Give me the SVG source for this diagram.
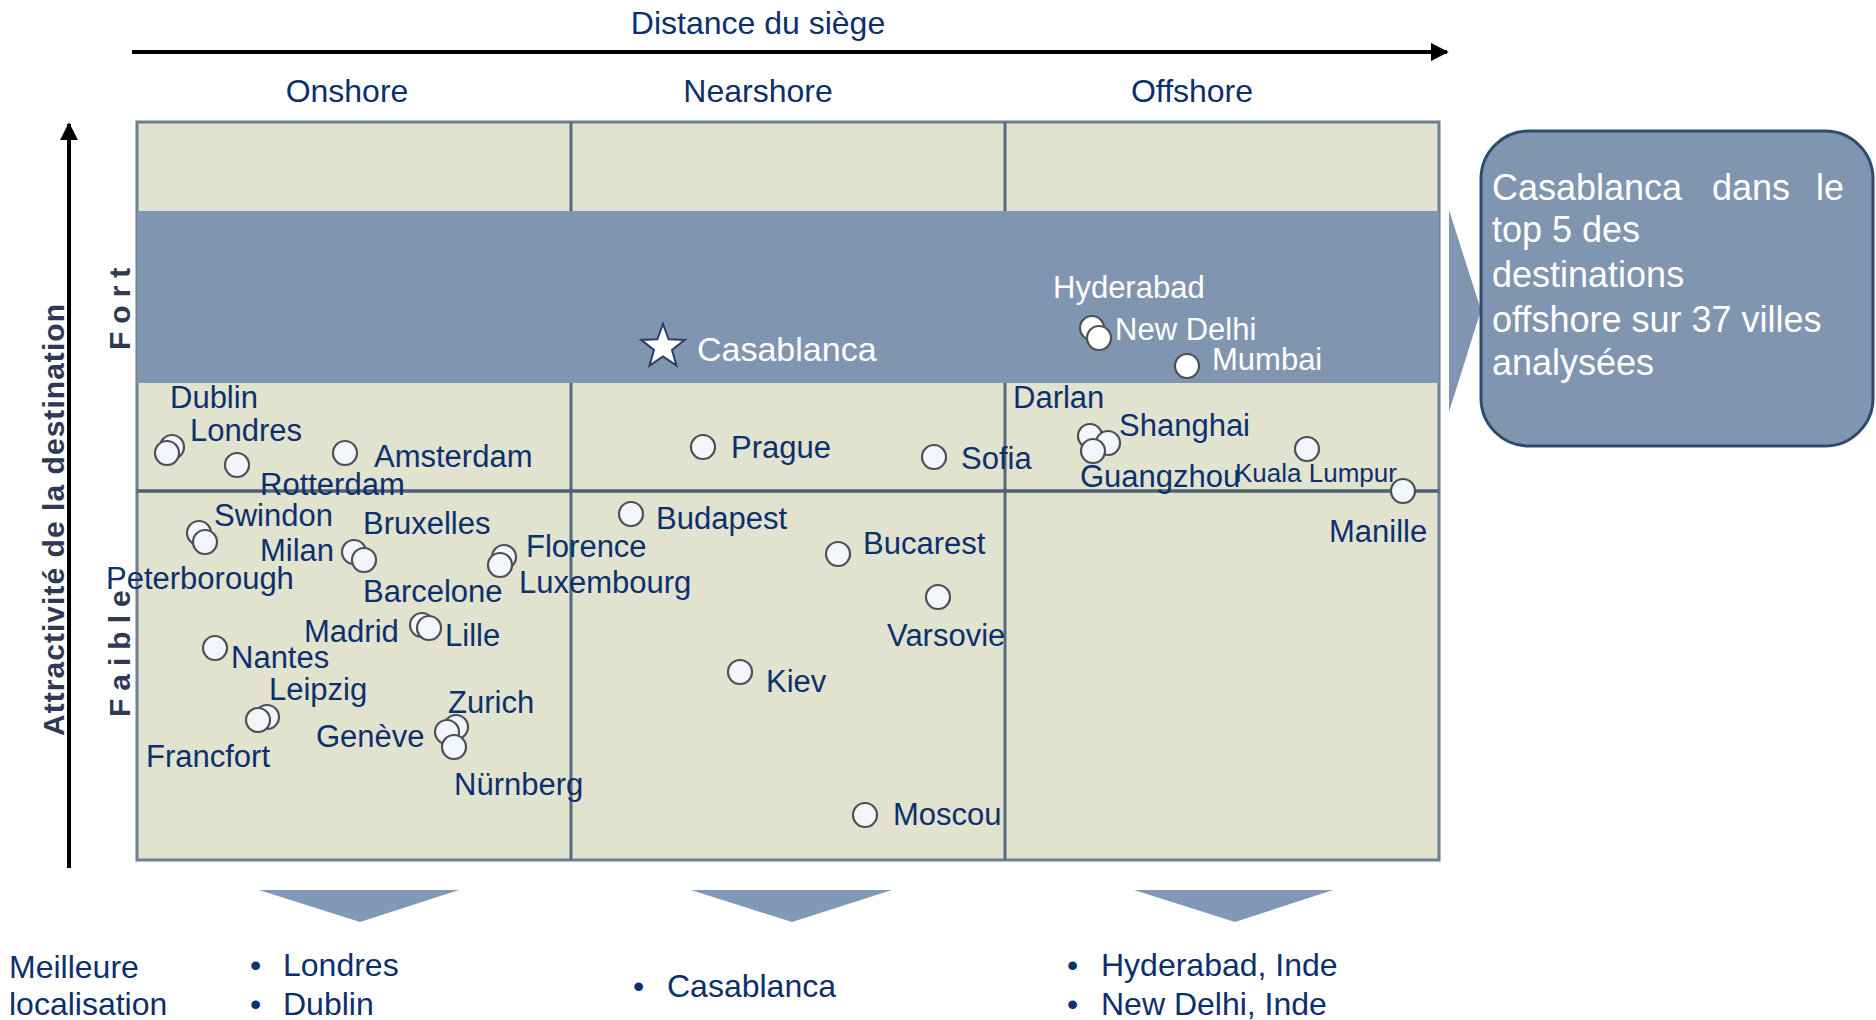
<svg xmlns="http://www.w3.org/2000/svg" width="1876" height="1020" viewBox="0 0 1876 1020">
<style>
text{font-family:"Liberation Sans",Arial,sans-serif;fill:#0c2f6e}
.h{font-size:32px}
.c{font-size:31px}
.w{fill:#ffffff}
.s{font-size:26px}
.ax{font-weight:bold;font-size:30px;fill:#2f3a52}
.dot{fill:#f2f5fa;stroke:#4d4f55;stroke-width:2.2}
.dotw{fill:#ffffff;stroke:#4d4f55;stroke-width:2.2}
.div{stroke:#55697f;stroke-width:3}
.tri{fill:#8198b6}
.co{font-size:36px;fill:#ffffff}
</style>
<defs>
<marker id="ah" viewBox="0 0 10 10" refX="9" refY="5" markerWidth="4.5" markerHeight="4.5" orient="auto" markerUnits="strokeWidth">
<path d="M0,0 L10,5 L0,10 z" fill="#000"/>
</marker>
</defs>
<rect width="1876" height="1020" fill="#ffffff"/>

<g id="grid">
<rect x="137" y="122" width="1302" height="738" fill="#e2e3cf" stroke="#6d7f93" stroke-width="3"/>
<rect x="137" y="211" width="1302" height="172" fill="#8096b0"/>
<line class="div" x1="571" y1="122" x2="571" y2="211"/>
<line class="div" x1="1005" y1="122" x2="1005" y2="211"/>
<line class="div" x1="571" y1="383" x2="571" y2="860"/>
<line class="div" x1="1005" y1="383" x2="1005" y2="860"/>
<line x1="137" y1="491" x2="1439" y2="491" stroke="#4f6172" stroke-width="3.5"/>
</g>

<g id="connectors">
<line x1="132" y1="52" x2="1447" y2="52" stroke="#000" stroke-width="4" marker-end="url(#ah)"/>
<line x1="69" y1="868" x2="69" y2="124" stroke="#000" stroke-width="4" marker-end="url(#ah)"/>
<polygon points="1449,210 1481,310 1449,412" fill="#8096b0"/>
<polygon class="tri" points="259,890 459,890 360,922"/>
<polygon class="tri" points="691,890 892,890 792,922"/>
<polygon class="tri" points="1134,890 1333,890 1235,922"/>
</g>

<g id="axis-labels">
<text class="h" x="758" y="34" text-anchor="middle">Distance du siège</text>
<text class="h" x="347" y="102" text-anchor="middle">Onshore</text>
<text class="h" x="758" y="102" text-anchor="middle">Nearshore</text>
<text class="h" x="1192" y="102" text-anchor="middle">Offshore</text>
<text class="ax" transform="translate(64,736) rotate(-90)" textLength="432" lengthAdjust="spacing">Attractivité de la destination</text>
<text class="ax" transform="translate(130,350) rotate(-90)" letter-spacing="8">Fort</text>
<text class="ax" transform="translate(130,717) rotate(-90)" letter-spacing="8">Faible</text>
</g>

<g id="dublin-londres">
<circle class="dot" cx="172" cy="447" r="12"/>
<circle class="dot" cx="167" cy="453" r="12"/>
<text class="c" x="170" y="408">Dublin</text>
<text class="c" x="190" y="441">Londres</text>
</g>
<g id="rotterdam">
<circle class="dot" cx="237" cy="465" r="12"/>
<text class="c" x="260" y="495">Rotterdam</text>
</g>
<g id="amsterdam">
<circle class="dot" cx="345" cy="453" r="12"/>
<text class="c" x="374" y="467">Amsterdam</text>
</g>
<g id="swindon-peterborough">
<circle class="dot" cx="199" cy="533" r="12"/>
<circle class="dot" cx="205" cy="542" r="12"/>
<text class="c" x="214" y="526">Swindon</text>
<text class="c" x="106" y="589">Peterborough</text>
</g>
<g id="milan-bruxelles-barcelone">
<circle class="dot" cx="354" cy="552" r="12"/>
<circle class="dot" cx="364" cy="560" r="12"/>
<text class="c" x="363" y="534">Bruxelles</text>
<text class="c" x="260" y="561">Milan</text>
<text class="c" x="363" y="602">Barcelone</text>
</g>
<g id="florence-luxembourg">
<circle class="dot" cx="504" cy="557" r="12"/>
<circle class="dot" cx="500" cy="565" r="12"/>
<text class="c" x="526" y="557">Florence</text>
<text class="c" x="519" y="593">Luxembourg</text>
</g>
<g id="madrid-lille">
<circle class="dot" cx="422" cy="625" r="12"/>
<circle class="dot" cx="429" cy="628" r="12"/>
<text class="c" x="304" y="642">Madrid</text>
<text class="c" x="445" y="646">Lille</text>
</g>
<g id="nantes">
<circle class="dot" cx="215" cy="648" r="12"/>
<text class="c" x="231" y="668">Nantes</text>
</g>
<g id="leipzig-francfort">
<circle class="dot" cx="267" cy="717" r="12"/>
<circle class="dot" cx="258" cy="720" r="12"/>
<text class="c" x="269" y="700">Leipzig</text>
<text class="c" x="146" y="767">Francfort</text>
</g>
<g id="zurich-geneve-nurnberg">
<circle class="dot" cx="456" cy="727" r="12"/>
<circle class="dot" cx="447" cy="732" r="12"/>
<circle class="dot" cx="454" cy="747" r="12"/>
<text class="c" x="448" y="713">Zurich</text>
<text class="c" x="316" y="747">Genève</text>
<text class="c" x="454" y="795">Nürnberg</text>
</g>

<g id="casablanca">
<polygon points="663,324 668.6,339.3 684.9,339.9 672,349.9 676.5,365.6 663,356.5 649.5,365.6 654,349.9 641.1,339.9 657.4,339.3" fill="#ffffff" stroke="#2c3e66" stroke-width="2"/>
<text class="c w" x="697" y="361" style="font-size:34px">Casablanca</text>
</g>
<g id="prague">
<circle class="dot" cx="703" cy="447" r="12"/>
<text class="c" x="731" y="458">Prague</text>
</g>
<g id="sofia">
<circle class="dot" cx="934" cy="457" r="12"/>
<text class="c" x="961" y="469">Sofia</text>
</g>
<g id="budapest">
<circle class="dot" cx="631" cy="514" r="12"/>
<text class="c" x="656" y="529">Budapest</text>
</g>
<g id="bucarest">
<circle class="dot" cx="838" cy="554" r="12"/>
<text class="c" x="863" y="554">Bucarest</text>
</g>
<g id="varsovie">
<circle class="dot" cx="938" cy="597" r="12"/>
<text class="c" x="887" y="646">Varsovie</text>
</g>
<g id="kiev">
<circle class="dot" cx="740" cy="672" r="12"/>
<text class="c" x="766" y="692">Kiev</text>
</g>
<g id="moscou">
<circle class="dot" cx="865" cy="815" r="12"/>
<text class="c" x="893" y="825">Moscou</text>
</g>

<g id="hyderabad-newdelhi">
<circle class="dotw" cx="1092" cy="328" r="12"/>
<circle class="dotw" cx="1099" cy="338" r="12"/>
<text class="c w" x="1053" y="298">Hyderabad</text>
<text class="c w" x="1115" y="340">New Delhi</text>
</g>
<g id="mumbai">
<circle class="dotw" cx="1187" cy="366" r="12"/>
<text class="c w" x="1212" y="370">Mumbai</text>
</g>
<g id="darlan-shanghai-guangzhou">
<circle class="dot" cx="1090" cy="436" r="12"/>
<circle class="dot" cx="1108" cy="443" r="12"/>
<circle class="dot" cx="1093" cy="451" r="12"/>
<text class="c" x="1013" y="408">Darlan</text>
<text class="c" x="1119" y="436">Shanghai</text>
<text class="c" x="1080" y="487">Guangzhou</text>
</g>
<g id="kuala-lumpur">
<circle class="dot" cx="1307" cy="449" r="12"/>
<text class="s" x="1235" y="482">Kuala Lumpur</text>
</g>
<g id="manille">
<circle class="dot" cx="1403" cy="491" r="12"/>
<text class="c" x="1329" y="542">Manille</text>
</g>

<g id="callout">
<rect x="1481" y="131" width="392" height="315" rx="48" ry="48" fill="#7f95b0" stroke="#2e4a6e" stroke-width="3"/>
<text class="co" y="200"><tspan x="1492">Casablanca</tspan><tspan x="1712">dans</tspan><tspan x="1816">le</tspan></text>
<text class="co" x="1492" y="242">top 5 des</text>
<text class="co" x="1492" y="287">destinations</text>
<text class="co" x="1492" y="332">offshore sur 37 villes</text>
<text class="co" x="1492" y="375">analysées</text>
</g>

<g id="bottom-labels">
<text class="h" x="9" y="978">Meilleure</text>
<text class="h" x="9" y="1015">localisation</text>
<text class="h" x="250" y="976">•</text>
<text class="h" x="283" y="976">Londres</text>
<text class="h" x="250" y="1015">•</text>
<text class="h" x="283" y="1015">Dublin</text>
<text class="h" x="633" y="997">•</text>
<text class="h" x="667" y="997">Casablanca</text>
<text class="h" x="1067" y="976">•</text>
<text class="h" x="1101" y="976">Hyderabad, Inde</text>
<text class="h" x="1067" y="1015">•</text>
<text class="h" x="1101" y="1015">New Delhi, Inde</text>
</g>
</svg>
